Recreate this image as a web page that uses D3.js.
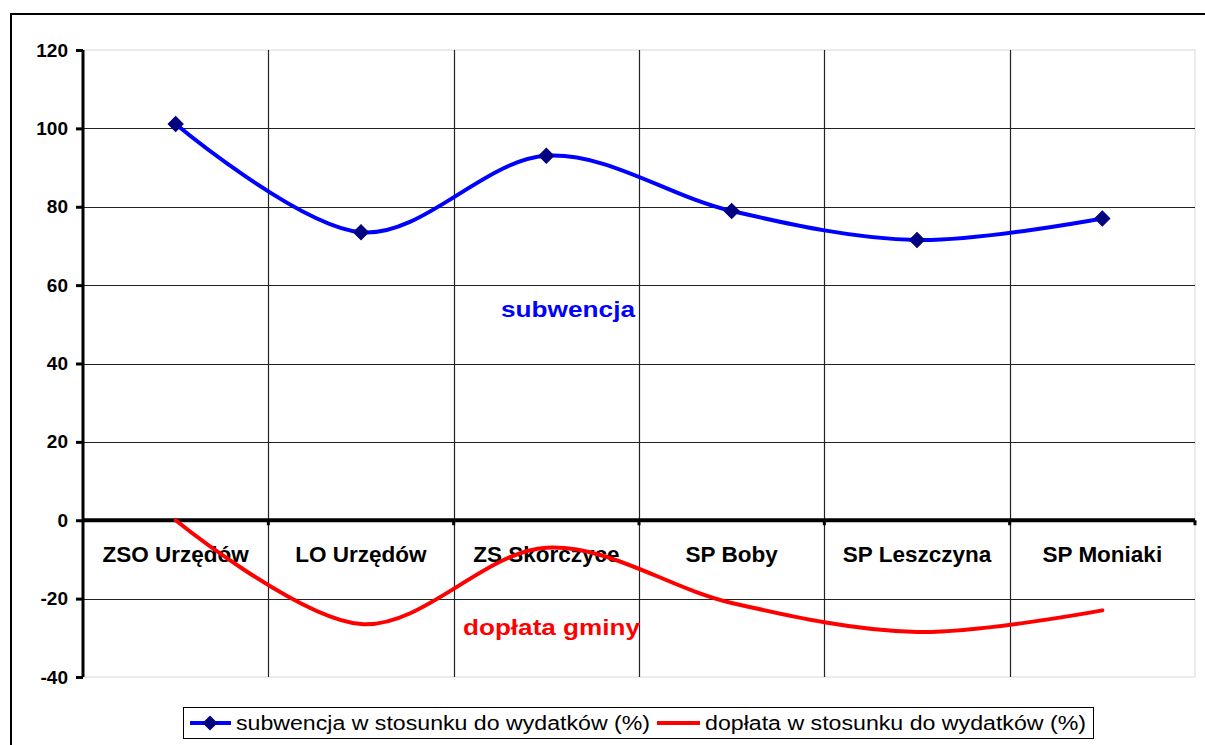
<!DOCTYPE html>
<html>
<head>
<meta charset="utf-8">
<script src="https://cdn.jsdelivr.net/npm/d3@7"></script>
<style>
  body { margin: 0; background: #fff; overflow: hidden; }
  svg { display: block; overflow: hidden; font-family: "Liberation Sans", Arial, sans-serif; }
</style>
</head>
<body>
<div id="chart"></div>
<script>
// values
var categories = ["ZSO Urzędów", "LO Urzędów", "ZS Skorczyce", "SP Boby", "SP Leszczyna", "SP Moniaki"];
var subwencja = [101.1, 73.5, 93.0, 78.9, 71.5, 77.0];
var doplata = [0, -26.5, -7.0, -21.1, -28.5, -23.0];
var yTicks = [-40, -20, 0, 20, 40, 60, 80, 100, 120];
var legendLabels = ["subwencja w stosunku do wydatków (%)", "dopłata w stosunku do wydatków (%)"];

var width = 1205, height = 745;

var svg = d3.select('#chart').append('svg')
    .attr('width', width)
    .attr('height', height);

// outer chart border: only top and left edges are inside the picture
svg.append('path')
    .attr('d', 'M11,' + height + 'V14H' + width)
    .attr('fill', 'none')
    .attr('stroke', '#000')
    .attr('stroke-width', 2);

var x = d3.scaleBand()
    .domain(categories)
    .range([83, 1195]);

var y = d3.scaleLinear()
    .domain([-40, 120])
    .range([677, 50]);

var plot = svg.append('g');

// plot area edge (light)
plot.append('rect')
    .attr('x', x.range()[0]).attr('y', y(120))
    .attr('width', x.range()[1] - x.range()[0])
    .attr('height', y(-40) - y(120))
    .attr('fill', 'none')
    .attr('stroke', '#d8d8d8')
    .attr('stroke-width', 1);

// horizontal grid
plot.selectAll('.hgrid')
    .data(yTicks.filter(function (d) { return d !== 0 && d !== -40 && d !== 120; }))
    .enter().append('line')
    .attr('x1', x.range()[0]).attr('x2', x.range()[1])
    .attr('y1', function (d) { return Math.round(y(d)) + 0.5; })
    .attr('y2', function (d) { return Math.round(y(d)) + 0.5; })
    .attr('stroke', '#222')
    .attr('stroke-width', 1.2);

// vertical grid at category boundaries
plot.selectAll('.vgrid')
    .data(categories.slice(1))
    .enter().append('line')
    .attr('x1', function (d) { return Math.round(x(d)) + 0.5; })
    .attr('x2', function (d) { return Math.round(x(d)) + 0.5; })
    .attr('y1', y(120)).attr('y2', y(-40))
    .attr('stroke', '#222')
    .attr('stroke-width', 1.2);

// y axis
var yAxis = d3.axisLeft(y)
    .tickValues(yTicks)
    .tickSize(7)
    .tickPadding(8)
    .tickFormat(function (d) { return String(d); });

var yG = plot.append('g')
    .attr('transform', 'translate(' + x.range()[0] + ',0)')
    .call(yAxis);
yG.select('.domain').attr('stroke', '#000').attr('stroke-width', 3)
    .attr('d', 'M0,' + y(120) + 'V' + y(-40));
yG.selectAll('.tick line').attr('stroke', '#000').attr('stroke-width', 3);
yG.selectAll('.tick text')
    .attr('font-size', 19)
    .attr('font-weight', 'bold')
    .attr('font-family', '"Liberation Sans", Arial, sans-serif')
    .attr('fill', '#000');

// zero axis with small ticks at category boundaries
var xAxisG = plot.append('g');
xAxisG.append('line')
    .attr('x1', x.range()[0]).attr('x2', x.range()[1])
    .attr('y1', y(0)).attr('y2', y(0))
    .attr('stroke', '#000').attr('stroke-width', 4);
xAxisG.selectAll('.xtick')
    .data(categories.slice(1).map(function (d) { return x(d); }).concat([x.range()[1]]))
    .enter().append('line')
    .attr('x1', function (d) { return d; }).attr('x2', function (d) { return d; })
    .attr('y1', y(0)).attr('y2', y(0) + 5)
    .attr('stroke', '#000').attr('stroke-width', 3);

// category labels
xAxisG.selectAll('.xlabel')
    .data(categories)
    .enter().append('text')
    .attr('x', function (d) { return x(d) + x.bandwidth() / 2; })
    .attr('y', y(0) + 42)
    .attr('text-anchor', 'middle')
    .attr('font-size', 22.5)
    .attr('font-weight', 'bold')
    .attr('fill', '#000')
    .text(function (d) { return d; });

// smoothed lines
var cx = function (d, i) { return x(categories[i]) + x.bandwidth() / 2; };
var line = d3.line()
    .x(cx)
    .y(function (d) { return y(d); })
    .curve(d3.curveCardinal.tension(0));

plot.append('path')
    .datum(doplata)
    .attr('d', line)
    .attr('fill', 'none')
    .attr('stroke', '#ff0000')
    .attr('stroke-width', 4)
    .attr('stroke-linecap', 'round');

plot.append('path')
    .datum(subwencja)
    .attr('d', line)
    .attr('fill', 'none')
    .attr('stroke', '#0000ff')
    .attr('stroke-width', 4)
    .attr('stroke-linecap', 'round');

var diamond = d3.symbol().type(d3.symbolSquare).size(112);

plot.selectAll('.marker')
    .data(subwencja)
    .enter().append('path')
    .attr('d', diamond)
    .attr('transform', function (d, i) {
        return 'translate(' + cx(d, i) + ',' + y(d) + ') rotate(45)';
    })
    .attr('fill', '#000080')
    .attr('stroke', '#000080')
    .attr('stroke-width', 1);

// annotations
plot.append('text')
    .attr('x', 501).attr('y', 317)
    .attr('font-size', 22)
    .attr('font-weight', 'bold')
    .attr('fill', '#0000ff')
    .attr('textLength', 134)
    .attr('lengthAdjust', 'spacingAndGlyphs')
    .text('subwencja');

plot.append('text')
    .attr('x', 463).attr('y', 635)
    .attr('font-size', 22)
    .attr('font-weight', 'bold')
    .attr('fill', '#ff0000')
    .attr('textLength', 177)
    .attr('lengthAdjust', 'spacingAndGlyphs')
    .text('dopłata gminy');

// legend
var legend = svg.append('g');
legend.append('rect')
    .attr('x', 183.5).attr('y', 707.5)
    .attr('width', 910).attr('height', 31)
    .attr('fill', '#fff')
    .attr('stroke', '#000')
    .attr('stroke-width', 1);

legend.append('line')
    .attr('x1', 190).attr('x2', 231)
    .attr('y1', 723).attr('y2', 723)
    .attr('stroke', '#0000ff').attr('stroke-width', 4);
legend.append('path')
    .attr('d', diamond)
    .attr('transform', 'translate(210,723) rotate(45)')
    .attr('fill', '#000080');
legend.append('text')
    .attr('x', 236).attr('y', 730)
    .attr('font-size', 20)
    .attr('fill', '#000')
    .attr('textLength', 414)
    .attr('lengthAdjust', 'spacingAndGlyphs')
    .text(legendLabels[0]);

legend.append('line')
    .attr('x1', 657).attr('x2', 700)
    .attr('y1', 723).attr('y2', 723)
    .attr('stroke', '#ff0000').attr('stroke-width', 4);
legend.append('text')
    .attr('x', 705).attr('y', 730)
    .attr('font-size', 20)
    .attr('fill', '#000')
    .attr('textLength', 381)
    .attr('lengthAdjust', 'spacingAndGlyphs')
    .text(legendLabels[1]);
</script>
</body>
</html>
